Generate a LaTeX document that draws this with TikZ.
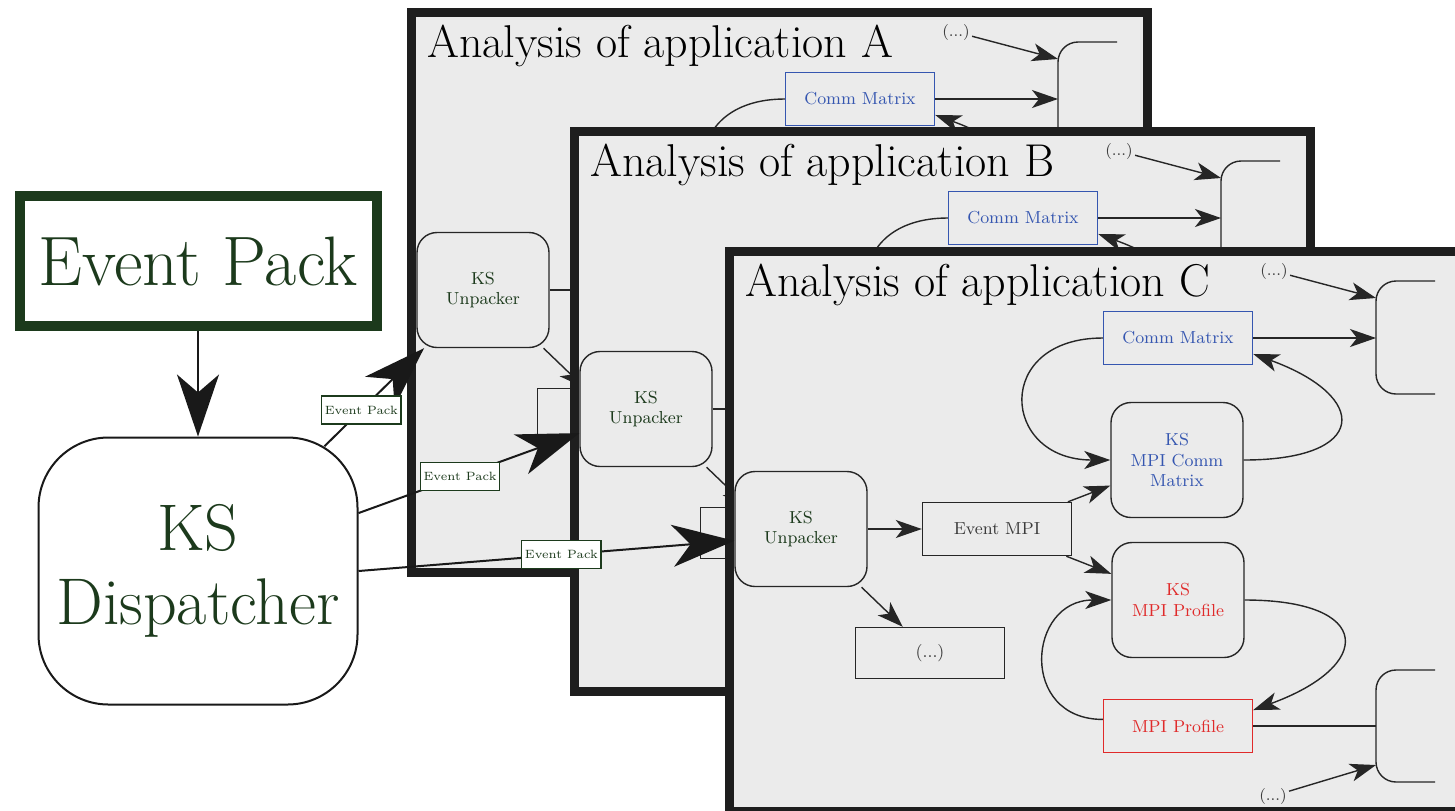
\documentclass[tikz,border=0pt]{standalone}
\usepackage{tikz}
\usetikzlibrary{arrows.meta,positioning}
\definecolor{evGreen}{HTML}{1C3A1C}
\definecolor{cmBlue}{HTML}{3556B0}
\definecolor{prRed}{HTML}{E02A2A}
\definecolor{panelGray}{HTML}{EBEBEB}
\definecolor{frameDark}{HTML}{1E1E1E}
\definecolor{textGray}{HTML}{3A3A3A}

\begin{document}
\begin{tikzpicture}[x=0.5pt, y=-0.5pt,
  panel/.style={draw=frameDark, line width=4.5pt, fill=panelGray},
  ptitle/.style={anchor=base west, inner sep=0pt, font=\fontsize{23}{27}\selectfont},
  kbox/.style={draw=black!85, line width=0.7pt, rounded corners=10pt, minimum width=66pt,
               minimum height=57.5pt, align=center, font=\fontsize{8.7}{10.4}\selectfont},
  sbox/.style={draw=black!85, line width=0.7pt, minimum width=74.5pt, minimum height=26.5pt,
               font=\fontsize{8.7}{10.4}\selectfont, text=textGray},
  dotnote/.style={inner sep=1pt, font=\fontsize{8}{9}\selectfont, text=textGray},
  pil/.style={-{Stealth[length=13pt, width=9pt, inset=3.5pt]}, line width=0.7pt, black!85},
  bigpil/.style={-{Stealth[length=31pt, width=21pt, inset=9pt]}, line width=1pt, black!90},
  lbl/.style={draw=evGreen, line width=0.6pt, fill=white, inner sep=1.6pt, minimum height=14pt,
              font=\fontsize{6}{7}\selectfont, text=evGreen}]

\clip (0,0) rectangle (1455,810);
\fill[white] (0,0) rectangle (1455,810);

% one analysis panel per application
\foreach \p/\px/\py in {A/411/12, B/574/131, C/729/251} {
\begin{scope}[shift={(\px,\py)}, name prefix=\p-]
  \draw[panel] (0,0) rectangle (736,560);
  \node[ptitle] (title) at (16,45) {Analysis of application \p};
  \node[kbox, text=evGreen] (unp) at (72,278) {KS\\Unpacker};
  \node[sbox] (evmpi) at (268,278) {Event MPI};
  \node[sbox, minimum height=25.5pt] (more) at (201,402) {(...)};
  \node[sbox, draw=cmBlue, text=cmBlue] (cm) at (449,87) {Comm Matrix};
  \node[kbox, text=cmBlue] (kscm) at (448,209) {KS\\MPI Comm\\Matrix};
  \node[kbox, text=prRed] (ksp) at (449,349) {KS\\MPI Profile};
  \node[sbox, draw=prRed, text=prRed] (mpip) at (449,475) {MPI Profile};
  \node[dotnote] (tdots) at (545,20) {(...)};
  \node[dotnote] (bdots) at (544,545) {(...)};
  % output brackets
  \draw[line width=0.7pt, black!85, rounded corners=10pt] (706,30) -- (647,30) -- (647,143) -- (706,143);
  \draw[line width=0.7pt, black!85, rounded corners=10pt] (706,419) -- (647,419) -- (647,531) -- (706,531);
  \coordinate (tin) at (647,47);
  \coordinate (cin) at (647,87);
  \coordinate (pin) at (647,475);
  \coordinate (bin) at (647,514);
  % flows
  \draw[pil] (unp) -- (evmpi);
  \draw[pil] (unp) -- (more);
  \draw[pil] (evmpi) -- (kscm);
  \draw[pil] (evmpi) -- (ksp);
  \draw[pil] (cm.west) to[out=180, in=180, looseness=2.3] (kscm.west);
  \draw[pil] (kscm.east) to[out=0, in=-20, looseness=3] (cm.-12);
  \draw[pil] (ksp.east) to[out=0, in=20, looseness=3] (mpip.12);
  \draw[pil] (mpip.175) to[out=180, in=180, looseness=1.8] (ksp.west);
  \draw[pil] (cm) -- (cin);
  \draw[pil] (tdots) -- (tin);
  \draw[pil] (bdots) -- (bin);
  \draw[line width=0.7pt, black!85] (mpip) -- (pin);
\end{scope}
}

\node[draw=evGreen, line width=5pt, minimum width=178.5pt, minimum height=65pt, text=evGreen,
      font=\fontsize{35}{40}\selectfont] (ep) at (198,261) {Event Pack};
\node[draw=black!90, line width=1pt, rounded corners=35pt, minimum width=159.5pt,
      minimum height=133.5pt, align=center, text=evGreen,
      font=\fontsize{33}{37}\selectfont] (disp) at (198,571) {KS\\Dispatcher};

\draw[bigpil] (ep) -- (disp);
\draw[bigpil, shorten <=-7pt] (disp) -- node[lbl, pos=0.3] (lblA) {Event Pack} (A-unp);
\draw[bigpil] (disp) -- node[lbl, pos=0.46] (lblB) {Event Pack} (B-unp);
\draw[bigpil] (disp.east) -- node[lbl, pos=0.54] (lblC) {Event Pack} (C-unp.190);
\end{tikzpicture}
\end{document}
